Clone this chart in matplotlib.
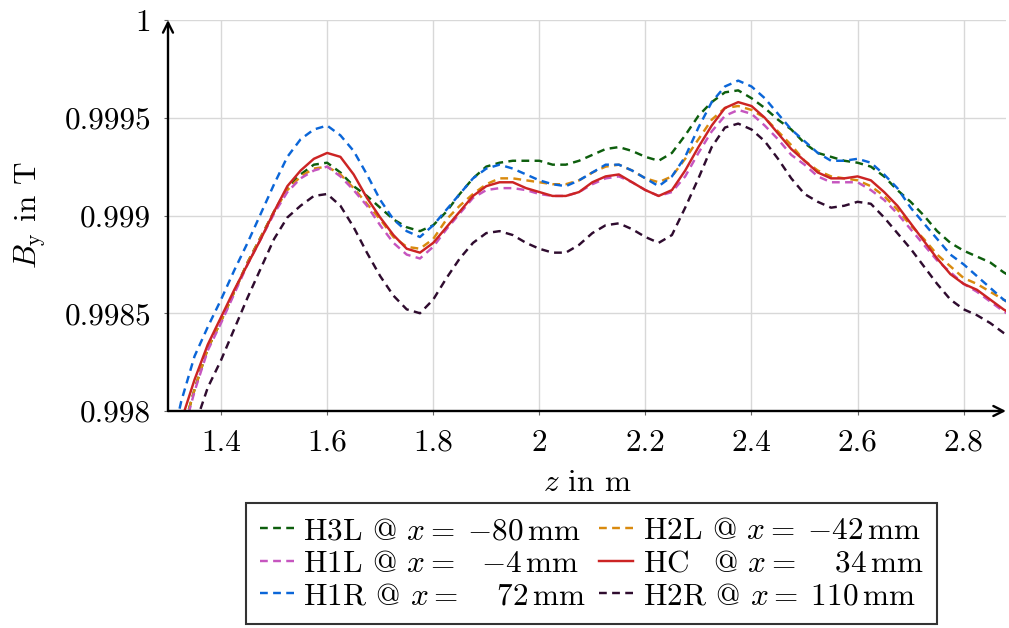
import matplotlib
matplotlib.use("Agg")
import matplotlib.pyplot as plt
import numpy as np

plt.rcParams['font.family'] = 'serif'
plt.rcParams['font.serif'] = ['cmr10']
plt.rcParams['mathtext.fontset'] = 'cm'
plt.rcParams['axes.formatter.use_mathtext'] = True
plt.rcParams['axes.unicode_minus'] = True

z = np.round(np.arange(1.300, 2.9001, 0.025), 3)

H3L = [0.99762, 0.99787, 0.99811, 0.99832, 0.99846, 0.99861, 0.99876, 0.99889, 0.99902, 0.99914,
       0.99921, 0.99926, 0.99927, 0.99922, 0.99915, 0.99910, 0.99904, 0.99898, 0.99894, 0.99892,
       0.99895, 0.99902, 0.99911, 0.99919, 0.99925, 0.99927, 0.99928, 0.99928, 0.99928, 0.99926,
       0.99926, 0.99928, 0.99931, 0.99934, 0.99935, 0.99933, 0.99930, 0.99928, 0.99932, 0.99941,
       0.99951, 0.99958, 0.99963, 0.99964, 0.99960, 0.99955, 0.99949, 0.99944, 0.99937, 0.99932,
       0.99930, 0.99928, 0.99927, 0.99925, 0.99920, 0.99913, 0.99907, 0.99900, 0.99892, 0.99886,
       0.99882, 0.99879, 0.99876, 0.99871, 0.99867]
H2L = [0.99762, 0.99787, 0.99811, 0.99832, 0.99846, 0.99861, 0.99876, 0.99889, 0.99902, 0.99913,
       0.99920, 0.99924, 0.99925, 0.99921, 0.99914, 0.99906, 0.99898, 0.99889, 0.99884, 0.99883,
       0.99888, 0.99898, 0.99905, 0.99911, 0.99916, 0.99919, 0.99919, 0.99918, 0.99917, 0.99916,
       0.99916, 0.99918, 0.99922, 0.99925, 0.99926, 0.99923, 0.99919, 0.99917, 0.99920, 0.99929,
       0.99939, 0.99949, 0.99955, 0.99956, 0.99954, 0.99950, 0.99943, 0.99936, 0.99928, 0.99923,
       0.99920, 0.99919, 0.99918, 0.99915, 0.99910, 0.99903, 0.99895, 0.99888, 0.99880, 0.99874,
       0.99868, 0.99865, 0.99861, 0.99857, 0.99853]
H1L = [0.99760, 0.99785, 0.99810, 0.99831, 0.99845, 0.99860, 0.99875, 0.99888, 0.99901, 0.99912,
       0.99919, 0.99923, 0.99925, 0.99920, 0.99913, 0.99905, 0.99895, 0.99886, 0.99880, 0.99878,
       0.99884, 0.99893, 0.99901, 0.99909, 0.99913, 0.99914, 0.99914, 0.99913, 0.99911, 0.99910,
       0.99910, 0.99912, 0.99916, 0.99919, 0.99920, 0.99917, 0.99913, 0.99910, 0.99912, 0.99920,
       0.99932, 0.99943, 0.99951, 0.99954, 0.99952, 0.99946, 0.99939, 0.99931, 0.99926, 0.99920,
       0.99917, 0.99917, 0.99917, 0.99913, 0.99908, 0.99901, 0.99893, 0.99885, 0.99877, 0.99871,
       0.99865, 0.99861, 0.99856, 0.99851, 0.99847]
HC = [0.99774, 0.99795, 0.99816, 0.99834, 0.99848, 0.99862, 0.99875, 0.99888, 0.99902, 0.99915,
      0.99923, 0.99929, 0.99932, 0.99930, 0.99921, 0.99909, 0.99899, 0.99890, 0.99883, 0.99881,
      0.99886, 0.99894, 0.99902, 0.99910, 0.99915, 0.99917, 0.99917, 0.99914, 0.99912, 0.99910,
      0.99910, 0.99912, 0.99917, 0.99920, 0.99921, 0.99917, 0.99913, 0.99910, 0.99913, 0.99923,
      0.99935, 0.99946, 0.99955, 0.99958, 0.99956, 0.99950, 0.99942, 0.99934, 0.99928, 0.99922,
      0.99919, 0.99919, 0.99920, 0.99918, 0.99912, 0.99905, 0.99896, 0.99887, 0.99878, 0.99870,
      0.99865, 0.99862, 0.99857, 0.99852, 0.99848]
H1R = [0.99775, 0.99805, 0.99828, 0.99843, 0.99857, 0.99872, 0.99886, 0.99901, 0.99916, 0.99930,
       0.99939, 0.99944, 0.99946, 0.99941, 0.99933, 0.99921, 0.99908, 0.99898, 0.99892, 0.99889,
       0.99895, 0.99903, 0.99911, 0.99919, 0.99924, 0.99926, 0.99924, 0.99921, 0.99918, 0.99916,
       0.99915, 0.99918, 0.99922, 0.99926, 0.99926, 0.99923, 0.99919, 0.99915, 0.99920, 0.99930,
       0.99945, 0.99958, 0.99966, 0.99969, 0.99966, 0.99960, 0.99952, 0.99944, 0.99938, 0.99932,
       0.99928, 0.99928, 0.99929, 0.99927, 0.99921, 0.99914, 0.99904, 0.99896, 0.99888, 0.99880,
       0.99875, 0.99869, 0.99863, 0.99857, 0.99853]
H2R = [0.99750, 0.99770, 0.99792, 0.99812, 0.99826, 0.99842, 0.99858, 0.99873, 0.99888, 0.99899,
       0.99905, 0.99910, 0.99911, 0.99905, 0.99894, 0.99881, 0.99869, 0.99859, 0.99852, 0.99850,
       0.99857, 0.99868, 0.99878, 0.99886, 0.99891, 0.99892, 0.99890, 0.99886, 0.99883, 0.99881,
       0.99881, 0.99885, 0.99891, 0.99895, 0.99896, 0.99893, 0.99889, 0.99886, 0.99890, 0.99904,
       0.99919, 0.99935, 0.99945, 0.99947, 0.99944, 0.99938, 0.99929, 0.99919, 0.99911, 0.99907,
       0.99904, 0.99905, 0.99907, 0.99906, 0.99899, 0.99891, 0.99883, 0.99874, 0.99865, 0.99857,
       0.99852, 0.99849, 0.99845, 0.99840, 0.99836]

labels = {
    'H3L': r'H3L @ $x =\;{-}80\,\mathrm{mm}$',
    'H2L': r'H2L @ $x =\;{-}42\,\mathrm{mm}$',
    'H1L': r'H1L @ $x =\;\enspace{-}4\,\mathrm{mm}$',
    'HC':  r'HC$\enspace$ @ $x =\;\enspace\;\,34\,\mathrm{mm}$',
    'H1R': r'H1R @ $x =\;\enspace\;\,72\,\mathrm{mm}$',
    'H2R': r'H2R @ $x =\;110\,\mathrm{mm}$',
}
colors = {'H3L': '#0d5e0d', 'H2L': '#d98a0e', 'H1L': '#c655bf',
          'HC': '#cc2424', 'H1R': '#0b66d8', 'H2R': '#2f0c2f'}
series = {'H3L': H3L, 'H2L': H2L, 'H1L': H1L, 'HC': HC, 'H1R': H1R, 'H2R': H2R}

fig = plt.figure(figsize=(10.09, 6.28), dpi=100)
L, R, T, B = 168, 1006, 20, 411
ax = fig.add_axes([L / 1009, 1 - B / 628, (R - L) / 1009, (B - T) / 628])

lw = 1.75
handles = {}
for key in ['H3L', 'H2L', 'H1L', 'H1R', 'H2R', 'HC']:
    ls = '-' if key == 'HC' else (0, (3.2, 2.2))
    h, = ax.plot(z, series[key], color=colors[key], lw=lw, linestyle=ls, label=labels[key])
    handles[key] = h

ax.set_xlim(1.3, 1.4 + (R - 221.7) / 530)
ax.set_ylim(0.998, 1.0)
xt = [1.4, 1.6, 1.8, 2.0, 2.2, 2.4, 2.6, 2.8]
ax.set_xticks(xt)
ax.set_xticklabels(['1.4', '1.6', '1.8', '2', '2.2', '2.4', '2.6', '2.8'])
yt = [0.998, 0.9985, 0.999, 0.9995, 1.0]
ax.set_yticks(yt)
ax.set_yticklabels(['0.998', '0.9985', '0.999', '0.9995', '1'])
FS = 22.5
ax.tick_params(labelsize=FS, direction='out', length=3, width=0.8, color='#666666', pad=9)
ax.tick_params(axis='x', pad=10)
ax.grid(True, color='#d8d8d8', lw=1.0)
ax.set_axisbelow(True)
for s in ax.spines.values():
    s.set_visible(False)

arrow = dict(arrowstyle='->', lw=1.7, color='black', mutation_scale=18, shrinkA=0, shrinkB=0)
ax.annotate('', xy=(1.0, 0), xytext=(0, 0), xycoords='axes fraction', arrowprops=arrow, annotation_clip=False)
ax.annotate('', xy=(0, 1.0), xytext=(0, 0), xycoords='axes fraction', arrowprops=arrow, annotation_clip=False)

ax.set_xlabel(r'$z$ in m', fontsize=FS, labelpad=9)
ax.set_ylabel(r'$B_\mathrm{y}$ in T', fontsize=FS, labelpad=12)

order = ['H3L', 'H1L', 'H1R', 'H2L', 'HC', 'H2R']
leg = fig.legend([handles[k] for k in order], [labels[k] for k in order],
                 ncol=2, loc='upper center', bbox_to_anchor=(591.5 / 1009, 1 - 503 / 628),
                 fontsize=FS, frameon=True, fancybox=False, framealpha=1,
                 edgecolor='#333333', handlelength=1.1, handletextpad=0.3,
                 columnspacing=0.4, labelspacing=0.15, borderpad=0.45, borderaxespad=0)
leg.get_frame().set_linewidth(1.5)

fig.savefig('out.png', dpi=100)
